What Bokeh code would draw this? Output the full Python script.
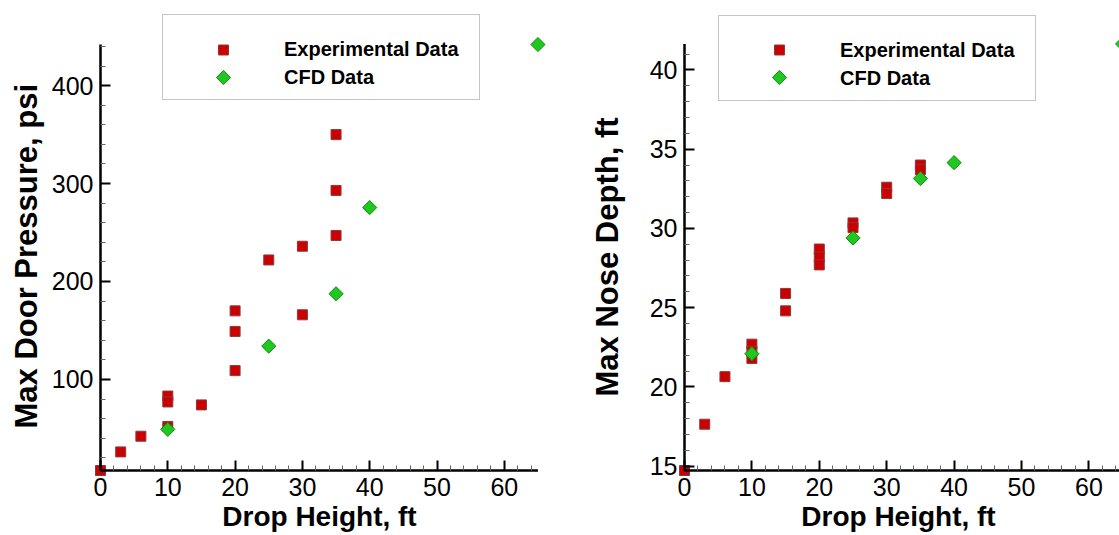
import math
from bokeh.plotting import figure
from bokeh.layouts import row
from bokeh.models import FixedTicker, Legend, LegendItem, Range1d, Title
from bokeh.embed import file_html
from bokeh.resources import INLINE

# ---------------- data ----------------
drop_exp_left = [0, 3, 6, 10, 10, 10, 15, 20, 20, 20, 25, 30, 30, 35, 35, 35]
pressure_exp = [7, 26, 42, 83, 77, 52, 74, 170, 149, 109, 222, 236, 166, 350, 293, 247]
drop_cfd_left = [10, 25, 35, 40, 65]
pressure_cfd = [49, 134, 187.5, 275.5, 442]

drop_exp_right = [0, 3, 6, 10, 10, 10, 15, 15, 20, 20, 20, 25, 25, 30, 30, 35, 35]
depth_exp = [14.73, 17.65, 20.65, 22.7, 22.25, 21.8, 25.9, 24.8, 28.7, 28.2, 27.7,
             30.35, 30.05, 32.6, 32.2, 34.0, 33.7]
drop_cfd_right = [10, 25, 35, 40, 65]
depth_cfd = [22.1, 29.4, 33.15, 34.15, 41.64]

x_major = [0, 10, 20, 30, 40, 50, 60]
left_y_major = [100, 200, 300, 400]
right_y_major = [15, 20, 25, 30, 35, 40]
legend_labels = ["Experimental Data", "CFD Data"]
x_title = "Drop Height, ft"

FONT = "Liberation Sans"
RED, RED_LINE = "#cc0000", "#8a3a3a"
GREEN, GREEN_LINE = "#1ec81e", "#118c11"

H = 535
FRAME_TOP, FRAME_BOTTOM = 0, 482
AXIS_Y_PX = 470          # pixel row of the x axis line
TOP_Y_PX = 44            # pixel row of the top end of the y axis


def lin(lo, hi, px_lo, px_hi):
    s = (hi - lo) / (px_hi - px_lo)
    return lambda px: lo + (px - px_lo) * s


def panel(origin, width, f_left, f_right, ax_px, x_scale, ex, ey, cx, cy,
          ylabel, ymaj, ymin_ticks, ytitle_offset, ytitle_standoff, top_px,
          box_left, box_bottom):
    xlo, xhi = 0, max(ex + cx)
    ylo, yhi = min(ey + cy), max(ey + cy)
    fx = lin(xlo, xhi, ax_px, ax_px + (xhi - xlo) * x_scale)
    fy = lin(ylo, yhi, AXIS_Y_PX, top_px)
    p = figure(width=width, height=H, output_backend="svg", toolbar_location=None,
               x_range=Range1d(fx(f_left), fx(f_right)),
               y_range=Range1d(fy(FRAME_BOTTOM), fy(FRAME_TOP)),
               min_border_left=f_left - origin,
               min_border_right=origin + width - f_right,
               min_border_top=FRAME_TOP, min_border_bottom=H - FRAME_BOTTOM)
    p.outline_line_color = None
    p.xgrid.visible = False
    p.ygrid.visible = False
    p.background_fill_color = "white"
    p.border_fill_color = "white"

    p.scatter(ex, ey, marker="square", size=10, fill_color=RED,
              line_color=RED_LINE, line_width=1)
    p.scatter(cx, cy, marker="square", size=10, angle=math.pi / 4,
              fill_color=GREEN, line_color=GREEN_LINE, line_width=1)

    # axis lines (spanning only the data extent, as in the original)
    p.segment(x0=[xlo, xlo], y0=[ylo, ylo], x1=[xhi, xlo], y1=[ylo, yhi],
              line_color="black", line_width=2.5)

    # legend keys (drawn under a transparent legend box)
    key_x = fx(box_left + 61)
    p.scatter([key_x], [fy(49.5)], marker="square", size=10, fill_color=RED,
              line_color=RED_LINE, line_width=1)
    p.scatter([key_x], [fy(77)], marker="square", size=10, angle=math.pi / 4,
              fill_color=GREEN, line_color=GREEN_LINE, line_width=1)
    d1 = p.scatter([], [], marker="square", fill_alpha=0, line_alpha=0)
    d2 = p.scatter([], [], marker="square", fill_alpha=0, line_alpha=0)

    xa = p.xaxis[0]
    ya = p.yaxis[0]
    xa.ticker = FixedTicker(ticks=x_major,
                            minor_ticks=[v for v in range(2, 65, 2) if v % 10])
    ya.ticker = FixedTicker(ticks=ymaj, minor_ticks=ymin_ticks)
    xa.bounds = (xlo, xhi)
    ya.bounds = (ylo, yhi)
    padx = ax_px - f_left
    pady = FRAME_BOTTOM - AXIS_Y_PX
    for ax, pad in ((xa, pady), (ya, padx)):
        ax.axis_line_color = None
        ax.major_tick_in = 10 + pad
        ax.major_tick_out = -pad
        ax.major_tick_line_width = 2
        ax.major_tick_line_color = "black"
        ax.minor_tick_in = 5 + pad
        ax.minor_tick_out = -pad
        ax.minor_tick_line_width = 1
        ax.minor_tick_line_color = "#666666"
        ax.major_label_text_font = FONT
        ax.major_label_text_font_size = "25px"
        ax.major_label_text_color = "black"
        ax.axis_label_text_font = FONT
        ax.axis_label_text_font_style = "bold"
        ax.axis_label_text_color = "black"
    xa.axis_label = x_title
    xa.axis_label_text_font_size = "28px"
    xa.major_label_standoff = 7
    xa.axis_label_standoff = 2
    ya.major_label_standoff = 7

    ytitle = Title(text=ylabel, align="left", vertical_align="bottom",
                   offset=ytitle_offset, standoff=ytitle_standoff,
                   text_font=FONT, text_font_style="bold", text_font_size="31px",
                   text_color="black")
    p.add_layout(ytitle, "left")

    legend = Legend(items=[LegendItem(label=legend_labels[0], renderers=[d1]),
                           LegendItem(label=legend_labels[1], renderers=[d2])],
                    location=(box_left - f_left, FRAME_BOTTOM - box_bottom),
                    margin=0, padding=10, spacing=5,
                    glyph_width=98, glyph_height=20, label_height=20,
                    label_width=185, label_standoff=13,
                    label_text_font=FONT, label_text_font_style="bold",
                    label_text_font_size="20px", label_text_color="black",
                    border_line_color="#8c8c8c", border_line_width=1,
                    background_fill_alpha=0,
                    title=" ", title_text_font_size="6px", title_standoff=7)
    p.add_layout(legend, "center")
    return p


left = panel(0, 560, 88, 550, 100, 6.73,
             drop_exp_left, pressure_exp, drop_cfd_left, pressure_cfd,
             "Max Door Pressure, psi", left_y_major,
             [v for v in range(20, 441, 20) if v % 100], 54, 9, TOP_Y_PX, 162, 100)

right = panel(560, 559, 677, 1119, 684, 6.74,
              drop_exp_right, depth_exp, drop_cfd_right, depth_cfd,
              "Max Nose Depth, ft", right_y_major,
              [v for v in range(16, 42) if v % 5], 86, 44, 43.4, 718, 101)

layout = row(left, right, spacing=0)
open("out.html", "w").write(file_html(layout, INLINE))
